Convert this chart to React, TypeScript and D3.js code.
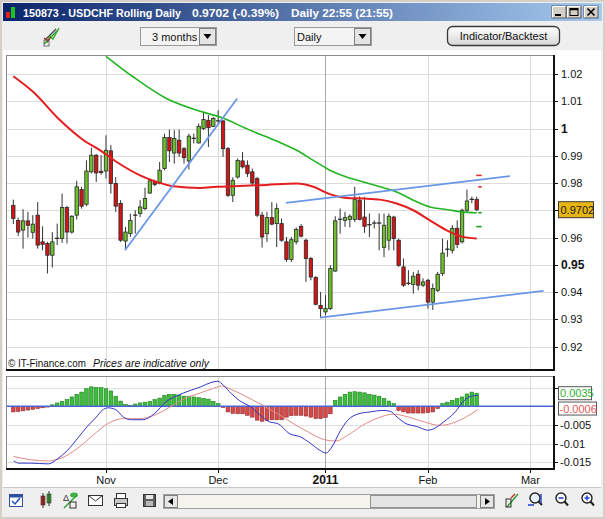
import React from "react";
import * as d3 from "d3";

// ---------- DATA ----------
const opens = [0.9718,0.9663,0.9627,0.9661,0.9619,0.9682,0.9584,0.9578,0.9535,0.9595,0.9596,0.9710,0.9620,0.9682,0.9776,0.9722,0.9841,0.9902,0.9843,0.9844,0.9918,0.9798,0.9725,0.9587,0.9614,0.9680,0.9688,0.9706,0.9763,0.9805,0.9798,0.9853,0.9967,0.9910,0.9957,0.9926,0.9881,0.9964,0.9947,1.0000,1.0030,1.0008,1.0028,1.0028,0.9926,0.9755,0.9822,0.9881,0.9865,0.9841,0.9816,0.9682,0.9614,0.9673,0.9651,0.9651,0.9584,0.9519,0.9584,0.9641,0.9590,0.9523,0.9453,0.9351,0.9327,0.9339,0.9477,0.9663,0.9663,0.9666,0.9666,0.9737,0.9675,0.9645,0.9651,0.9653,0.9564,0.9590,0.9675,0.9590,0.9492,0.9432,0.9428,0.9465,0.9425,0.9443,0.9363,0.9406,0.9468,0.9555,0.9553,0.9634,0.9584,0.9700,0.9736,0.9740];
const highs = [0.9739,0.9673,0.9704,0.9694,0.9682,0.9730,0.9641,0.9584,0.9620,0.9651,0.9761,0.9715,0.9682,0.9808,0.9786,0.9883,0.9930,0.9906,0.9902,0.9975,0.9939,0.9822,0.9737,0.9639,0.9688,0.9700,0.9737,0.9783,0.9816,0.9812,0.9877,0.9981,0.9996,0.9994,0.9996,0.9932,0.9981,0.9981,1.0018,1.0057,1.0049,1.0042,1.0067,1.0030,0.9932,0.9821,0.9890,0.9914,0.9883,0.9853,0.9822,0.9694,0.9694,0.9730,0.9725,0.9670,0.9602,0.9602,0.9637,0.9649,0.9596,0.9529,0.9458,0.9400,0.9388,0.9498,0.9678,0.9706,0.9694,0.9685,0.9786,0.9751,0.9749,0.9688,0.9663,0.9688,0.9688,0.9688,0.9680,0.9596,0.9523,0.9480,0.9474,0.9480,0.9450,0.9448,0.9431,0.9474,0.9596,0.9590,0.9645,0.9663,0.9706,0.9776,0.9750,0.9750];
const lows = [0.9649,0.9605,0.9559,0.9600,0.9596,0.9559,0.9553,0.9468,0.9490,0.9572,0.9580,0.9578,0.9614,0.9666,0.9706,0.9715,0.9835,0.9804,0.9830,0.9816,0.9761,0.9694,0.9584,0.9556,0.9602,0.9614,0.9675,0.9700,0.9761,0.9788,0.9795,0.9847,0.9877,0.9871,0.9896,0.9871,0.9849,0.9945,0.9945,0.9994,0.9932,1.0005,1.0018,0.9896,0.9749,0.9730,0.9816,0.9853,0.9822,0.9792,0.9675,0.9563,0.9584,0.9645,0.9565,0.9584,0.9510,0.9510,0.9575,0.9600,0.9437,0.9443,0.9351,0.9304,0.9315,0.9334,0.9474,0.9614,0.9639,0.9637,0.9657,0.9663,0.9617,0.9602,0.9633,0.9553,0.9528,0.9553,0.9553,0.9492,0.9419,0.9425,0.9394,0.9406,0.9418,0.9339,0.9334,0.9400,0.9459,0.9529,0.9541,0.9561,0.9578,0.9694,0.9726,0.9697];
const closes = [0.9670,0.9620,0.9661,0.9645,0.9649,0.9572,0.9575,0.9535,0.9584,0.9597,0.9710,0.9620,0.9678,0.9786,0.9715,0.9844,0.9902,0.9837,0.9838,0.9920,0.9798,0.9715,0.9590,0.9620,0.9663,0.9682,0.9712,0.9743,0.9808,0.9795,0.9847,0.9967,0.9918,0.9963,0.9910,0.9893,0.9972,0.9962,1.0008,1.0033,1.0003,1.0037,1.0026,0.9926,0.9755,0.9810,0.9883,0.9859,0.9835,0.9800,0.9682,0.9602,0.9673,0.9649,0.9706,0.9590,0.9519,0.9592,0.9629,0.9605,0.9523,0.9455,0.9355,0.9339,0.9339,0.9486,0.9661,0.9667,0.9673,0.9678,0.9739,0.9666,0.9641,0.9647,0.9653,0.9649,0.9645,0.9678,0.9596,0.9498,0.9425,0.9430,0.9458,0.9425,0.9437,0.9363,0.9413,0.9465,0.9543,0.9557,0.9633,0.9575,0.9700,0.9734,0.9740,0.9702];

// moving averages: [bar index, price]
const redMA = [[0,1.0192],[4.1,1.0134],[9.6,1.0030],[14.4,0.9957],[17.8,0.9920],[21.2,0.9877],[26,0.9828],[29.4,0.9804],[32.8,0.9788],[38.3,0.9782],[41.7,0.9786],[45.1,0.9788],[51.9,0.9793],[58.1,0.9798],[61.5,0.9786],[64.9,0.9759],[68.3,0.9745],[71.8,0.9743],[75.2,0.9739],[78.6,0.9725],[82,0.9700],[85.4,0.9663],[88.8,0.9627],[91.6,0.9605],[95,0.9596]];
const greenMA = [[19,1.0265],[24.6,1.0189],[31.4,1.0110],[38.3,1.0063],[42.4,1.0042],[48.5,0.9994],[54,0.9954],[58.1,0.9920],[61.5,0.9883],[64.9,0.9847],[68.3,0.9822],[71.8,0.9804],[75.2,0.9786],[78.6,0.9767],[82,0.9737],[85.4,0.9712],[88.8,0.9703],[91.9,0.9694],[95,0.9690]];

// hand-drawn trend lines: [[index, price], [index, price]]
const trendLines = [
  [[22.9, 0.9553], [45.9, 1.0110]],
  [[55.9, 0.9727], [101.8, 0.9825]],
  [[62.85, 0.9306], [108.7, 0.9404]],
];
const resistanceLevels = [0.9828, 0.9786];
const supportLevels = [0.9691, 0.9640];
const lastPrice = 0.9702;

const priceTicks = [0.92, 0.93, 0.94, 0.95, 0.96, 0.97, 0.98, 0.99, 1.0, 1.01, 1.02];
const priceTickLabels = ["0.92", "0.93", "0.94", "0.95", "0.96", "0.97", "0.98", "0.99", "1", "1.01", "1.02"];
const boldPriceTicks = ["1", "0.95"];

const monthLabels = ["Nov", "Dec", "2011", "Feb", "Mar"];
const monthIndex = [19, 42, 64, 85, 106];

const macdTicks = [0.005, -0.005, -0.01, -0.015];
const macdTickLabels = ["0.005", "-0.005", "-0.01", "-0.015"];

const histogram = [-0.0015,-0.0014,-0.0012,-0.0010,-0.0008,-0.0006,-0.0004,-0.0002,
  0.0004,0.0009,0.0013,0.0018,0.0025,0.0032,0.0038,0.0047,0.0052,0.0050,0.0050,0.0047,0.0041,0.0027,0.0014,0.0005,
  0.0002,
  0.0006,0.0009,0.0011,0.0013,0.0018,0.0022,0.0029,0.0032,0.0032,0.0030,0.0027,0.0027,0.0025,0.0023,0.0021,0.0019,0.0013,0.0007,
  -0.0003,
  -0.0015,-0.0019,-0.0020,-0.0020,-0.0024,-0.0029,-0.0037,-0.0040,-0.0038,-0.0036,-0.0036,-0.0036,-0.0029,-0.0025,-0.0024,-0.0024,-0.0026,-0.0029,-0.0033,-0.0033,-0.0030,-0.0020,
  0.0016,0.0025,0.0032,0.0038,0.0039,0.0038,0.0036,0.0032,0.0030,0.0027,0.0021,0.0014,0.0007,
  -0.0011,-0.0015,-0.0018,-0.0018,-0.0018,-0.0018,-0.0017,-0.0015,-0.0006,
  0.0007,0.0011,0.0016,0.0021,0.0025,0.0033,0.0038,0.0035];

const macdLine = [[0.04,-0.0146],[1.2,-0.0152],[3.6,-0.0152],[7.2,-0.0154],[9.1,-0.0140],[11.1,-0.0118],[13.1,-0.0087],[15.1,-0.0055],[17,-0.0029],[18.2,-0.0011],[19.4,-0.0004],[21,-0.0009],[22.6,-0.0029],[24.2,-0.0036],[26.5,-0.0036],[28.9,-0.0020],[31.3,0.0012],[33.7,0.0029],[36,0.0041],[38.4,0.0052],[40.4,0.0063],[41.9,0.0067],[43.1,0.0056],[44.7,0.0034],[46.3,0.0016],[48.7,-0.0002],[51.1,-0.0029],[52.6,-0.0042],[54.2,-0.0046],[56.6,-0.0073],[58.9,-0.0082],[60.5,-0.0095],[62.9,-0.0118],[64.1,-0.0125],[65.3,-0.0109],[66.9,-0.0069],[68.5,-0.0038],[70.8,-0.0020],[73.2,-0.0015],[75.6,-0.0011],[77.2,-0.0013],[78.7,-0.0029],[80.3,-0.0045],[82.7,-0.0054],[85.1,-0.0064],[86.2,-0.0060],[88.2,-0.0042],[90.6,-0.0015],[92.2,0.0012],[93.8,0.0027],[95.2,0.0029]];
const signalLine = [[0.04,-0.0134],[3.6,-0.0143],[7.2,-0.0146],[9.9,-0.0138],[13.1,-0.0113],[16.3,-0.0078],[19.4,-0.0046],[22.6,-0.0033],[25.7,-0.0033],[28.9,-0.0024],[32.1,-0.0002],[35.2,0.0021],[38.4,0.0036],[40.8,0.0047],[42.7,0.0054],[44.7,0.0045],[47.9,0.0025],[51.1,0.0003],[54.2,-0.0020],[57.4,-0.0046],[60.5,-0.0069],[63.7,-0.0089],[66.1,-0.0093],[68.5,-0.0078],[71.6,-0.0051],[74.8,-0.0031],[77.9,-0.0021],[81.1,-0.0029],[84.3,-0.0042],[87.4,-0.0051],[89.8,-0.0046],[92.2,-0.0033],[95.2,-0.0009]];
const macdValueLabel = 0.0035;
const signalValueLabel = -0.0006;

const FONT = "'Liberation Sans', Arial, sans-serif";

export default function App() {
  const main = { l: 6, r: 554, t: 55, b: 370 };
  const sub = { l: 6, r: 554, t: 376, b: 469 };
  const x = d3.scaleLinear().domain([0, 95]).range([13.3, 476.7]);
  const y = d3.scaleLinear().domain([0.92, 1.02]).range([346.5, 74]);
  const ym = d3.scaleLinear().domain([-0.015, 0.005]).range([462.4, 387.6]);

  const maPath = d3.line().x((d: any) => x(d[0])).y((d: any) => y(d[1])).curve(d3.curveMonotoneX);
  const subPath = d3.line().x((d: any) => x(d[0])).y((d: any) => ym(d[1])).curve(d3.curveMonotoneX);

  const bodyW = 3.4;
  const lastY = y(lastPrice);
  const macdY = ym(macdValueLabel);
  const sigY = ym(signalValueLabel);

  return (
    <svg width={605} height={519} style={{ position: "absolute", left: 0, top: 0 }} fontFamily={FONT}>
      <defs>
        <linearGradient id="titleGrad" x1="0" x2="1" y1="0" y2="0">
          <stop offset="0" stopColor="#0A246A" />
          <stop offset="1" stopColor="#A6CAF0" />
        </linearGradient>
        <linearGradient id="btnGrad" x1="0" x2="0" y1="0" y2="1">
          <stop offset="0" stopColor="#FFFFFF" />
          <stop offset="1" stopColor="#D6D6D6" />
        </linearGradient>
        <clipPath id="mainClip"><rect x={main.l} y={main.t} width={main.r - main.l} height={main.b - main.t} /></clipPath>
        <clipPath id="subClip"><rect x={sub.l} y={sub.t} width={sub.r - sub.l} height={sub.b - sub.t} /></clipPath>
      </defs>

      {/* window */}
      <rect x={0} y={0} width={605} height={519} fill="#D4D0C8" />
      <rect x={2} y={2} width={601} height={515} fill="#EFEFEF" />
      {/* title bar */}
      <rect x={3} y={3} width={599} height={18} fill="url(#titleGrad)" />
      <rect x={6} y={12} width={4} height={6} fill="#E02020" />
      <rect x={11} y={7} width={4} height={11} fill="#20C020" />
      <g fill="#FFFFFF" fontWeight="bold" fontSize={11.5}>
        <text x={23} y={16.5} textLength={158} lengthAdjust="spacingAndGlyphs">150873 - USDCHF Rolling Daily</text>
        <text x={192} y={16.5} textLength={87} lengthAdjust="spacingAndGlyphs">0.9702 (-0.39%)</text>
        <text x={291} y={16.5} textLength={102} lengthAdjust="spacingAndGlyphs">Daily  22:55 (21:55)</text>
      </g>
      {[552, 567, 584].map((bx, i) => (
        <g key={i}>
          <rect x={bx} y={6} width={14} height={12} fill="#D4D0C8" stroke="#404040" strokeWidth={0.8} />
          <line x1={bx + 0.5} y1={6.5} x2={bx + 13.5} y2={6.5} stroke="#FFFFFF" />
          <line x1={bx + 0.5} y1={6.5} x2={bx + 0.5} y2={17.5} stroke="#FFFFFF" />
        </g>
      ))}
      <rect x={555} y={14} width={6} height={2} fill="#000" />
      <rect x={570} y={8.5} width={8} height={7} fill="none" stroke="#000" strokeWidth={1} />
      <line x1={570} y1={9.5} x2={578} y2={9.5} stroke="#000" strokeWidth={1.5} />
      <path d="M587.5,8.5 L594.5,15.5 M594.5,8.5 L587.5,15.5" stroke="#000" strokeWidth={1.6} />

      {/* top toolbar */}
      <g>
        <path d="M45,40 L56,29" stroke="#444" strokeWidth={1.2} />
        <path d="M44,44 L58,30" stroke="#2A9A2A" strokeWidth={1.4} />
        <path d="M47,43 L50,36 L53,39 L59,28" stroke="#30B030" strokeWidth={1.4} fill="none" />
        <path d="M44,38 L48,41 L51,37" stroke="#D02020" strokeWidth={1.2} fill="none" />
        <rect x={44} y={40} width={5} height={6} fill="none" stroke="#555" strokeWidth={0.8} />

        <rect x={140.5} y={27.5} width={76} height={18} fill="#F4F4F4" stroke="#9A9A9A" />
        <text x={152} y={40.5} fontSize={11} fill="#111">3 months</text>
        <rect x={199.5} y={28.5} width={16} height={16} fill="#E4E4E4" stroke="#808080" />
        <path d="M203.5,34 L211.5,34 L207.5,39 Z" fill="#000" />

        <rect x={294.5} y={27.5} width={77} height={18} fill="#F4F4F4" stroke="#9A9A9A" />
        <text x={297} y={40.5} fontSize={11} fill="#111">Daily</text>
        <rect x={354.5} y={28.5} width={16} height={16} fill="#E4E4E4" stroke="#808080" />
        <path d="M358.5,34 L366.5,34 L362.5,39 Z" fill="#000" />

        <rect x={447.5} y={26.5} width={112} height={19} rx={5} fill="url(#btnGrad)" stroke="#3A3A3A" strokeWidth={1.3} />
        <text x={503.5} y={40} fontSize={11} fill="#111" textAnchor="middle">Indicator/Backtest</text>
      </g>

      {/* white chart area */}
      <rect x={3} y={50} width={598} height={437} fill="#FFFFFF" />

      {/* ---------- MAIN PANEL ---------- */}
      <g>
        {priceTicks.map((p, i) => (
          <line key={"hg" + i} x1={main.l} x2={main.r} y1={Math.round(y(p)) + 0.5} y2={Math.round(y(p)) + 0.5} stroke="#DCDCDC" />
        ))}
        {monthIndex.map((m, i) => (
          <line key={"vg" + i} x1={Math.round(x(m)) + 0.5} x2={Math.round(x(m)) + 0.5} y1={main.t} y2={main.b}
            stroke={monthLabels[i] === "2011" ? "#A8A8A8" : "#DADADA"} />
        ))}
        <g clipPath="url(#mainClip)">
          {opens.map((o, i) => {
            const c = closes[i];
            const up = c >= o;
            const cx = x(i);
            const top = y(Math.max(o, c));
            const h = Math.max(1, y(Math.min(o, c)) - top);
            return (
              <g key={"c" + i}>
                <line x1={cx} x2={cx} y1={y(highs[i])} y2={y(lows[i])} stroke="#333" strokeWidth={1} />
                {h <= 1.2 ? (
                  <line x1={cx - bodyW / 2 - 0.5} x2={cx + bodyW / 2 + 0.5} y1={top} y2={top} stroke="#222" strokeWidth={1.2} />
                ) : (
                  <rect x={cx - bodyW / 2} y={top} width={bodyW} height={h}
                    fill={up ? "#6CC02C" : "#D21414"} stroke="#2A2A2A" strokeWidth={0.8} />
                )}
              </g>
            );
          })}
          <path d={maPath(greenMA as any) || ""} fill="none" stroke="#22B422" strokeWidth={1.6} />
          <path d={maPath(redMA as any) || ""} fill="none" stroke="#E41E1E" strokeWidth={2} />
          {trendLines.map((t, i) => (
            <line key={"t" + i} x1={x(t[0][0])} y1={y(t[0][1])} x2={x(t[1][0])} y2={y(t[1][1])} stroke="#6A96E8" strokeWidth={1.8} />
          ))}
          {resistanceLevels.map((p, i) => (
            <line key={"r" + i} x1={x(95) + (i === 0 ? -0.5 : 1.5)} x2={x(95) + 5} y1={y(p)} y2={y(p)} stroke="#E03030" strokeWidth={1.6} />
          ))}
          {supportLevels.map((p, i) => (
            <line key={"s" + i} x1={x(95) + (i === 0 ? 1.5 : -0.5)} x2={x(95) + 5} y1={y(p)} y2={y(p)} stroke="#22A022" strokeWidth={1.6} />
          ))}
        </g>
        <text x={8} y={367} fontSize={11} fill="#111" textLength={78} lengthAdjust="spacingAndGlyphs">© IT-Finance.com</text>
        <text x={93} y={367} fontSize={11} fill="#111" fontStyle="italic" textLength={116} lengthAdjust="spacingAndGlyphs">Prices are indicative only</text>
        {/* frame */}
        <line x1={main.l + 0.5} y1={main.t} x2={main.l + 0.5} y2={main.b} stroke="#8A8A8A" />
        <line x1={main.l} y1={main.t + 0.5} x2={main.r} y2={main.t + 0.5} stroke="#8A8A8A" />
        <line x1={main.r} y1={main.t} x2={main.r} y2={main.b + 1} stroke="#111" strokeWidth={2} />
        <line x1={main.l} y1={main.b} x2={main.r + 1} y2={main.b} stroke="#111" strokeWidth={2} />
        {/* right axis */}
        {priceTicks.map((p, i) => {
          const bold = boldPriceTicks.includes(priceTickLabels[i]);
          const hidden = Math.abs(y(p) - lastY) < 9;
          return (
            <g key={"pt" + i}>
              <line x1={main.r} x2={main.r + 4} y1={Math.round(y(p)) + 0.5} y2={Math.round(y(p)) + 0.5} stroke="#111" />
              {!hidden && (
                <text x={561} y={y(p) + 4} fontSize={bold ? 12 : 11} fontWeight={bold ? "bold" : "normal"} fill="#111">{priceTickLabels[i]}</text>
              )}
            </g>
          );
        })}
        <rect x={558.5} y={lastY - 8} width={35} height={16} fill="#E8B512" stroke="#3A3A3A" />
        <text x={560.5} y={lastY + 4} fontSize={11} fill="#1A1A1A">{lastPrice.toFixed(4)}</text>
      </g>

      {/* ---------- MACD PANEL ---------- */}
      <g>
        {macdTicks.map((v, i) => (
          <line key={"mg" + i} x1={sub.l} x2={sub.r} y1={Math.round(ym(v)) + 0.5} y2={Math.round(ym(v)) + 0.5} stroke="#E0E0E0" />
        ))}
        {monthIndex.map((m, i) => (
          <line key={"mvg" + i} x1={Math.round(x(m)) + 0.5} x2={Math.round(x(m)) + 0.5} y1={sub.t} y2={sub.b}
            stroke={monthLabels[i] === "2011" ? "#A8A8A8" : "#DADADA"} />
        ))}
        <g clipPath="url(#subClip)">
          {histogram.map((v, i) => {
            const y0 = ym(0);
            const y1 = ym(v);
            return (
              <rect key={"h" + i} x={x(i) - 1.8} y={Math.min(y0, y1)} width={3.6} height={Math.max(0.6, Math.abs(y1 - y0))}
                fill={v >= 0 ? "#3CBE3C" : "#D84848"} stroke={v >= 0 ? "#1F7F1F" : "#8E2A2A"} strokeWidth={0.6} />
            );
          })}
          <line x1={sub.l} x2={sub.r} y1={ym(0)} y2={ym(0)} stroke="#4A64D8" strokeWidth={1.5} />
          <path d={subPath(signalLine as any) || ""} fill="none" stroke="#E28A84" strokeWidth={1} />
          <path d={subPath(macdLine as any) || ""} fill="none" stroke="#3434C8" strokeWidth={1} />
        </g>
        <line x1={sub.l + 0.5} y1={sub.t} x2={sub.l + 0.5} y2={sub.b} stroke="#8A8A8A" />
        <line x1={sub.l} y1={sub.t + 0.5} x2={sub.r} y2={sub.t + 0.5} stroke="#8A8A8A" />
        <line x1={sub.r} y1={sub.t} x2={sub.r} y2={sub.b + 1} stroke="#111" strokeWidth={2} />
        <line x1={sub.l} y1={sub.b} x2={sub.r + 1} y2={sub.b} stroke="#111" strokeWidth={2} />
        {macdTicks.map((v, i) => {
          const hidden = Math.abs(ym(v) - macdY) < 9 || Math.abs(ym(v) - sigY) < 9;
          return (
            <g key={"mt" + i}>
              <line x1={sub.r} x2={sub.r + 4} y1={Math.round(ym(v)) + 0.5} y2={Math.round(ym(v)) + 0.5} stroke="#111" />
              {!hidden && <text x={560} y={ym(v) + 4} fontSize={11} fill="#111">{macdTickLabels[i]}</text>}
            </g>
          );
        })}
        <rect x={558.5} y={macdY - 6.5} width={33} height={13} fill="#FFFFFF" stroke="#555" />
        <text x={560} y={macdY + 4} fontSize={11} fill="#2DB02D">{macdValueLabel.toFixed(4)}</text>
        <rect x={558.5} y={sigY - 6.5} width={38} height={13} fill="#FFFFFF" stroke="#555" />
        <text x={559.5} y={sigY + 4} fontSize={11} fill="#E05A5A">{signalValueLabel.toFixed(4)}</text>
        {/* time axis */}
        {monthIndex.map((m, i) => (
          <g key={"ml" + i}>
            <line x1={Math.round(x(m)) + 0.5} x2={Math.round(x(m)) + 0.5} y1={sub.b} y2={sub.b + 4} stroke="#111" />
            <text x={x(m)} y={484} fontSize={monthLabels[i] === "2011" ? 12 : 11}
              fontWeight={monthLabels[i] === "2011" ? "bold" : "normal"} textAnchor="middle" fill="#111">{monthLabels[i]}</text>
          </g>
        ))}
      </g>

      {/* bottom toolbar */}
      <g>
        <line x1={3} x2={601} y1={487.5} y2={487.5} stroke="#C8C8C8" />
        {/* calendar */}
        <rect x={9.5} y={494.5} width={13} height={12} fill="#FFFFFF" stroke="#3050A0" />
        <rect x={9.5} y={494.5} width={13} height={3} fill="#3050A0" />
        <path d="M12,501 L15,504 L20,498" stroke="#2050C0" strokeWidth={1.5} fill="none" />
        {/* candles icon */}
        <rect x={41} y={496} width={4} height={9} fill="#D02020" stroke="#333" strokeWidth={0.6} />
        <rect x={47} y={494} width={4} height={9} fill="#30B030" stroke="#333" strokeWidth={0.6} />
        <line x1={43} x2={43} y1={493} y2={508} stroke="#333" />
        <line x1={49} x2={49} y1={491} y2={506} stroke="#333" />
        {/* delta icon */}
        <text x={63} y={501} fontSize={9} fill="#333">Δ</text>
        <ellipse cx={74} cy={495} rx={4} ry={2.5} fill="#40B040" />
        <path d="M64,508 L76,496" stroke="#30A030" strokeWidth={1.4} />
        <rect x={70} y={502} width={6} height={6} fill="none" stroke="#333" />
        {/* envelope */}
        <rect x={88.5} y={495.5} width={14} height={10} fill="#FFFFFF" stroke="#333" />
        <path d="M88.5,495.5 L95.5,501 L102.5,495.5" fill="none" stroke="#333" />
        {/* printer */}
        <rect x={116.5} y={493.5} width={9} height={5} fill="#FFFFFF" stroke="#333" />
        <rect x={114.5} y={498.5} width={13} height={7} fill="#C8C8C8" stroke="#333" />
        <rect x={116.5} y={503.5} width={9} height={4} fill="#FFFFFF" stroke="#333" />
        {/* floppy */}
        <rect x={143.5} y={494.5} width={12} height={12} fill="#606060" stroke="#333" />
        <rect x={146} y={495} width={7} height={4} fill="#E8E8E8" />
        <rect x={146} y={501} width={7} height={5} fill="#B8B8B8" />
        {/* scrollbar */}
        <rect x={163.5} y={494.5} width={331} height={14} fill="#F4F3EE" stroke="#A0A0A0" />
        <rect x={164.5} y={495.5} width={13} height={12} fill="#E6E6E6" stroke="#808080" />
        <path d="M173,498 L168,501.5 L173,505 Z" fill="#000" />
        <rect x={480.5} y={495.5} width={13} height={12} fill="#E6E6E6" stroke="#808080" />
        <path d="M485,498 L490,501.5 L485,505 Z" fill="#000" />
        <rect x={370.5} y={495.5} width={106} height={12} fill="#E4E4E4" stroke="#909090" />
        {/* right icons */}
        <path d="M507,507 L518,494" stroke="#30A030" strokeWidth={1.5} />
        <rect x={506} y={499} width={5} height={8} fill="none" stroke="#333" />
        <path d="M511,498 L515,494" stroke="#D02020" strokeWidth={1.2} />
        <circle cx={535} cy={498} r={5} fill="#E8F0FF" stroke="#222" strokeWidth={1.4} />
        <line x1={538.5} y1={501.5} x2={542} y2={505} stroke="#222" strokeWidth={2} />
        <path d="M528,505 L534,505 M541,494 L541,503" stroke="#2040D0" strokeWidth={1.4} />
        <circle cx={561} cy={498} r={5} fill="#FFFFFF" stroke="#222" strokeWidth={1.4} />
        <line x1={564.5} y1={501.5} x2={568} y2={505.5} stroke="#222" strokeWidth={2} />
        <line x1={558.5} y1={498} x2={563.5} y2={498} stroke="#2040D0" strokeWidth={1.6} />
        <circle cx={587} cy={498} r={5} fill="#FFFFFF" stroke="#222" strokeWidth={1.4} />
        <line x1={590.5} y1={501.5} x2={594} y2={505.5} stroke="#222" strokeWidth={2} />
        <path d="M584.5,498 L589.5,498 M587,495.5 L587,500.5" stroke="#2040D0" strokeWidth={1.6} />
      </g>
    </svg>
  );
}
